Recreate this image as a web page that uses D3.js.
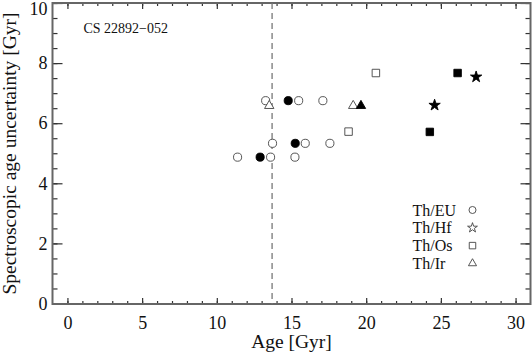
<!DOCTYPE html>
<html>
<head>
<meta charset="utf-8">
<script src="https://cdn.jsdelivr.net/npm/d3@7"></script>
<style>
  body { margin: 0; background: #fff; }
  text { font-family: "Liberation Serif", "DejaVu Serif", serif; fill: #111; }
</style>
</head>
<body>
<div id="chart"></div>
<script>
// star name and ratio labels
var starName = "CS 22892\u2212052";
var ratios = ["Th/EU", "Th/Hf", "Th/Os", "Th/Ir"];
var xTicks = [0, 5, 10, 15, 20, 25, 30];
var yTicks = [0, 2, 4, 6, 8, 10];
var universeAge = 13.7;

// ages [Gyr], uncertainty [Gyr], filled (1) or open (0)
var thEuAge = [13.27, 15.48, 17.10, 13.73, 15.92, 17.57, 11.39, 13.60, 15.23, 14.78, 15.25, 12.90];
var thEuUnc = [6.75, 6.75, 6.75, 5.33, 5.33, 5.33, 4.87, 4.87, 4.87, 6.75, 5.33, 4.87];
var thEuFill = [0, 0, 0, 0, 0, 0, 0, 0, 0, 1, 1, 1];

var thHfAge = [24.58, 27.36];
var thHfUnc = [6.60, 7.54];
var thHfFill = [1, 1];

var thOsAge = [20.65, 18.82, 26.12, 24.26];
var thOsUnc = [7.67, 5.72, 7.67, 5.71];
var thOsFill = [0, 0, 1, 1];

var thIrAge = [13.51, 19.13, 19.65];
var thIrUnc = [6.58, 6.58, 6.58];
var thIrFill = [0, 0, 1];

var margin = {top: 3, right: 1.5, bottom: 50, left: 52.5},
    width = 532 - margin.left - margin.right,
    height = 354 - margin.top - margin.bottom;

var axisColor = "#666";

var svg = d3.select("#chart").append("svg")
    .attr("width", 532)
    .attr("height", 354)
  .append("g")
    .attr("transform", "translate(" + margin.left + "," + margin.top + ")");

var x = d3.scaleLinear().domain([-1, 31]).range([0, width]);
var y = d3.scaleLinear().domain([0, 10]).range([300.5, 0]);

// minor ticks first, then major with labels
var xMinor = d3.range(0, 31, 1);
var yMinor = d3.range(0, 10.01, 0.5);

function tickStyle(g) {
  g.select(".domain").remove();
  g.selectAll("line").attr("stroke", "#333").attr("stroke-width", 1.2);
}

svg.append("g")
    .attr("transform", "translate(0," + height + ")")
    .call(d3.axisBottom(x).tickValues(xMinor).tickSize(-3).tickFormat(""))
    .call(tickStyle);
svg.append("g")
    .attr("transform", "translate(0," + height + ")")
    .call(d3.axisBottom(x).tickValues(xTicks).tickSize(-6).tickPadding(12))
    .call(tickStyle)
    .selectAll("text").style("font-size", "18px").attr("fill", "#111");
svg.append("g")
    .call(d3.axisTop(x).tickValues(xMinor).tickSize(-3).tickFormat(""))
    .call(tickStyle);
svg.append("g")
    .call(d3.axisTop(x).tickValues(xTicks).tickSize(-6).tickFormat(""))
    .call(tickStyle);

svg.append("g")
    .call(d3.axisLeft(y).tickValues(yMinor).tickSize(-5).tickFormat(""))
    .call(tickStyle);
svg.append("g")
    .call(d3.axisLeft(y).tickValues(yTicks).tickSize(-10).tickPadding(5).tickFormat(d3.format("d")))
    .call(tickStyle)
    .selectAll("text")
    .style("font-size", "18px")
    .attr("fill", "#111")
    .attr("dy", function (d) { return d === 10 ? "0.62em" : "0.32em"; });
svg.append("g")
    .attr("transform", "translate(" + width + ",0)")
    .call(d3.axisRight(y).tickValues(yMinor).tickSize(-5).tickFormat(""))
    .call(tickStyle);
svg.append("g")
    .attr("transform", "translate(" + width + ",0)")
    .call(d3.axisRight(y).tickValues(yTicks).tickSize(-10).tickFormat(""))
    .call(tickStyle);

// frame
svg.append("rect")
    .attr("width", width)
    .attr("height", height)
    .attr("fill", "none")
    .attr("stroke", axisColor)
    .attr("stroke-width", 2);

// age of the universe
svg.append("line")
    .attr("x1", x(universeAge)).attr("x2", x(universeAge))
    .attr("y1", 0).attr("y2", height)
    .attr("stroke", "#777")
    .attr("stroke-width", 1.3)
    .attr("stroke-dasharray", "6,4");

svg.append("text")
    .attr("x", x(0) + 16)
    .attr("y", 30)
    .style("font-size", "14px")
    .text(starName);

var series = [
  {age: thEuAge, unc: thEuUnc, fill: thEuFill, type: d3.symbolCircle, size: 52},
  {age: thHfAge, unc: thHfUnc, fill: thHfFill, type: d3.symbolStar, size: 40},
  {age: thOsAge, unc: thOsUnc, fill: thOsFill, type: d3.symbolSquare, size: 56},
  {age: thIrAge, unc: thIrUnc, fill: thIrFill, type: d3.symbolTriangle, size: 38}
];

series.forEach(function (s) {
  var pts = s.age.map(function (a, i) { return {age: a, unc: s.unc[i], filled: s.fill[i]}; });
  svg.selectAll(null)
      .data(pts)
      .enter().append("path")
      .attr("transform", function (d) { return "translate(" + x(d.age) + "," + y(d.unc) + ")"; })
      .attr("d", d3.symbol().type(s.type).size(s.size))
      .attr("fill", function (d) { return d.filled ? "#000" : "#fff"; })
      .attr("stroke", function (d) { return d.filled ? "#000" : "#444"; })
      .attr("stroke-width", 0.9);
});

// legend
var legend = svg.append("g").attr("transform", "translate(" + (x(23.1)) + "," + 207 + ")");
ratios.forEach(function (r, i) {
  var row = legend.append("g").attr("transform", "translate(0," + (i * 17.8) + ")");
  row.append("text")
      .attr("y", 5.5)
      .style("font-size", "16px")
      .text(r);
  row.append("path")
      .attr("transform", "translate(60,0)")
      .attr("d", d3.symbol().type(series[i].type).size(series[i].size * 0.75))
      .attr("fill", "none")
      .attr("stroke", "#444")
      .attr("stroke-width", 0.9);
});

// axis titles
svg.append("text")
    .attr("x", width / 2)
    .attr("y", height + 44)
    .attr("text-anchor", "middle")
    .style("font-size", "19.5px")
    .text("Age [Gyr]");

svg.append("text")
    .attr("transform", "translate(" + (-37) + "," + (height / 2) + ") rotate(-90)")
    .attr("text-anchor", "middle")
    .style("font-size", "19.5px")
    .text("Spectroscopic age uncertainty [Gyr]");
</script>
</body>
</html>
